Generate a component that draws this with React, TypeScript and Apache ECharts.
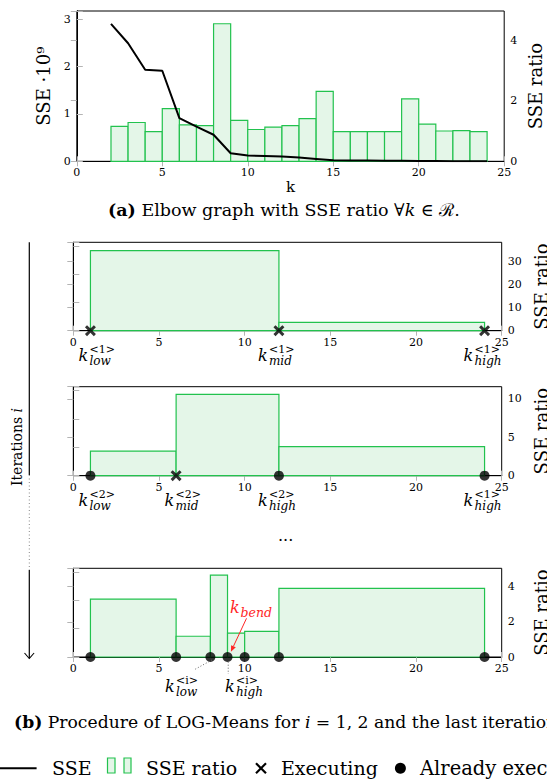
import React, { useEffect, useRef } from "react";
import * as echarts from "echarts";

const FONT = '"DejaVu Serif", serif';

// ---------- (a) Elbow graph ----------
const kValues = [2, 3, 4, 5, 6, 7, 8, 9, 10, 11, 12, 13, 14, 15, 16, 17, 18, 19, 20, 21, 22, 23, 24];
const sseValues = [2.9, 2.49, 1.93, 1.91, 0.91, 0.73, 0.56, 0.17, 0.12, 0.11, 0.1, 0.08, 0.05, 0.02, 0.018, 0.015, 0.012, 0.01, 0.005, 0.004, 0.003, 0.002, 0.001];
const ratioStarts = [2, 3, 4, 5, 6, 7, 8, 9, 10, 11, 12, 13, 14, 15, 16, 17, 18, 19, 20, 21, 22, 23];
const ratioValues = [1.15, 1.28, 0.98, 1.74, 1.2, 1.18, 4.54, 1.35, 1.05, 1.13, 1.18, 1.41, 2.31, 0.98, 0.98, 0.98, 0.98, 2.06, 1.23, 1.0, 1.01, 0.98];

// ---------- (b) LOG-Means iterations ----------
const iter1Edges = [1, 12, 24];
const iter1Ratios = [34.8, 3.6];
const iter1Executing = [1, 12, 24];
const iter1Done: number[] = [];

const iter2Edges = [1, 6, 12, 24];
const iter2Ratios = [3.2, 10.6, 3.8];
const iter2Executing = [6];
const iter2Done = [1, 12, 24];

const iterLastEdges = [1, 6, 8, 9, 10, 12, 24];
const iterLastRatios = [3.29, 1.18, 4.65, 1.36, 1.46, 3.9];
const iterLastExecuting: number[] = [];
const iterLastDone = [1, 6, 8, 9, 10, 12, 24];

const iter1Labels = [
  { k: 1, sup: "<1>", sub: "low" },
  { k: 12, sup: "<1>", sub: "mid" },
  { k: 24, sup: "<1>", sub: "high" },
];
const iter2Labels = [
  { k: 1, sup: "<2>", sub: "low" },
  { k: 6, sup: "<2>", sub: "mid" },
  { k: 12, sup: "<2>", sub: "high" },
  { k: 24, sup: "<1>", sub: "high" },
];
const iterLastLabels = [
  { k: 8, sup: "<i>", sub: "low" },
  { k: 9, sup: "<i>", sub: "high" },
];
const kBend = 9;

// label layout (pixel offsets, kept apart from the data)
const iter1LabelLayout = [{ dx: -12, dy: 0 }, { dx: -21, dy: 0 }, { dx: -21, dy: 0 }];
const iter2LabelLayout = [{ dx: -12, dy: 0 }, { dx: -11.5, dy: 0 }, { dx: -21, dy: 0 }, { dx: -21, dy: 0 }];
const iterLastLabelLayout = [
  { dx: -45.4, dy: 4.5, leader: [1.5, 3, -15.4, 12.3] },
  { dx: -2.6, dy: 4.5, leader: [0.7, 4.7, 0.7, 17] },
];

const GREEN = "#22c24e";
const GREEN_FILL = "#e4f6e8";
const TICK = "#b4b4b4";

const grids = [
  { left: 76.8, top: 11, width: 427.4, height: 150.3 },
  { left: 73.3, top: 242.3, width: 428.4, height: 88.4 },
  { left: 73.3, top: 386.7, width: 428.4, height: 89 },
  { left: 73.3, top: 568.3, width: 428.4, height: 88.7 },
];

const multipleFmt = (interval: number) => (v: number) => {
  const q = v / interval;
  return Math.abs(q - Math.round(q)) < 1e-6 ? String(v) : "";
};

function xAxesFor(gridIndex: number, withName: boolean) {
  const base = {
    type: "value",
    gridIndex,
    min: 0,
    max: 25,
    interval: 5,
    splitLine: { show: false },
    axisLine: { show: true, lineStyle: { color: "#000", width: 1 } },
    axisTick: { show: true, inside: true, length: 5, lineStyle: { color: TICK } },
  };
  return [
    {
      ...base,
      position: "bottom",
      axisLabel: { fontFamily: FONT, fontSize: 11, color: "#000", margin: 6 },
      ...(withName
        ? { name: "k", nameLocation: "middle", nameGap: 16, nameTextStyle: { fontFamily: FONT, fontSize: 15, color: "#000" } }
        : {}),
    },
    { ...base, position: "top", axisLabel: { show: false } },
  ];
}

function yAxis(gridIndex: number, position: string, max: number, interval: number, showLabels: boolean, name?: string, nameGap?: number) {
  return {
    type: "value",
    gridIndex,
    position,
    min: 0,
    max,
    interval,
    splitLine: { show: false },
    axisLine: { show: true, lineStyle: { color: "#000", width: 1 } },
    axisTick: { show: true, inside: true, length: 6, lineStyle: { color: TICK } },
    axisLabel: { show: showLabels, fontFamily: FONT, fontSize: 11, color: "#000", margin: 6, formatter: multipleFmt(interval) },
    ...(name
      ? { name, nameLocation: "middle", nameRotate: 90, nameGap, nameTextStyle: { fontFamily: FONT, fontSize: 18, color: "#000" } }
      : {}),
  };
}

function barSeries(edges: number[], values: number[], xAxisIndex: number, yAxisIndex: number) {
  return {
    type: "custom",
    xAxisIndex,
    yAxisIndex,
    z: 2,
    data: values.map((v, i) => [edges[i], edges[i + 1], v]),
    encode: { x: [0, 1], y: 2 },
    renderItem: (_p: any, api: any) => {
      const a = api.coord([api.value(0), api.value(2)]);
      const b = api.coord([api.value(1), 0]);
      return {
        type: "rect",
        shape: { x: a[0], y: a[1], width: b[0] - a[0], height: b[1] - a[1] },
        style: { fill: GREEN_FILL, stroke: GREEN, lineWidth: 1.2 },
      };
    },
  };
}

const CROSS = "path://M0,1.9L1.9,0L5,3.1L8.1,0L10,1.9L6.9,5L10,8.1L8.1,10L5,6.9L1.9,10L0,8.1L3.1,5Z";

function markerSeries(done: number[], executing: number[], xAxisIndex: number, yAxisIndex: number) {
  return [
    {
      type: "scatter",
      xAxisIndex,
      yAxisIndex,
      z: 10,
      clip: false,
      symbol: "circle",
      symbolSize: 10,
      itemStyle: { color: "#000" },
      data: done.map((k) => [k, 0]),
    },
    {
      type: "scatter",
      xAxisIndex,
      yAxisIndex,
      z: 10,
      clip: false,
      symbol: CROSS,
      symbolSize: 11,
      itemStyle: { color: "#000" },
      data: executing.map((k) => [k, 0]),
    },
  ];
}

function labelSeries(labels: { k: number; sup: string; sub: string }[], layout: any[], xAxisIndex: number, yAxisIndex: number) {
  return {
    type: "custom",
    xAxisIndex,
    yAxisIndex,
    z: 12,
    data: labels.map((l, i) => [l.k, 0, i]),
    encode: { x: 0, y: 1 },
    renderItem: (_p: any, api: any) => {
      const idx = api.value(2);
      const lab = labels[idx];
      const lay = layout[idx];
      const p = api.coord([api.value(0), 0]);
      const x0 = p[0] + lay.dx;
      const y0 = p[1] + lay.dy;
      const children: any[] = [
        { type: "text", x: x0, y: y0 + 24.6, style: { text: "k", font: `italic 16px ${FONT}`, fill: "#000", align: "left", verticalAlign: "middle" } },
        { type: "text", x: x0 + 11, y: y0 + 18.6, style: { text: lab.sup, font: `11px ${FONT}`, fill: "#000", align: "left", verticalAlign: "middle" } },
        { type: "text", x: x0 + 11, y: y0 + 30, style: { text: lab.sub, font: `italic 12px ${FONT}`, fill: "#000", align: "left", verticalAlign: "middle" } },
      ];
      if (lay.leader) {
        const [ax, ay, bx, by] = lay.leader;
        children.push({
          type: "line",
          shape: { x1: p[0] + ax, y1: p[1] + ay, x2: p[0] + bx, y2: p[1] + by },
          style: { stroke: "#666", lineWidth: 1, lineDash: [1, 2] },
        });
      }
      return { type: "group", children };
    },
  };
}

function bendSeries(xAxisIndex: number, yAxisIndex: number) {
  return {
    type: "custom",
    xAxisIndex,
    yAxisIndex,
    z: 13,
    data: [[kBend, 0]],
    encode: { x: 0, y: 1 },
    renderItem: (_p: any, api: any) => {
      const p = api.coord([api.value(0), 0]);
      const sx = p[0] + 19, sy = p[1] - 38.7;
      const tx = p[0] + 3.4, ty = p[1] - 5.3;
      const dx = tx - sx, dy = ty - sy;
      const len = Math.sqrt(dx * dx + dy * dy);
      const ux = dx / len, uy = dy / len;
      const hl = 6, hw = 2.6;
      const bx = tx - ux * hl, by = ty - uy * hl;
      const RED = "#ff2626";
      return {
        type: "group",
        children: [
          { type: "text", x: p[0] + 2.4, y: p[1] - 49.5, style: { text: "k", font: `italic 16px ${FONT}`, fill: RED, align: "left", verticalAlign: "middle" } },
          { type: "text", x: p[0] + 13, y: p[1] - 45, style: { text: "bend", font: `italic 12.5px ${FONT}`, fill: RED, align: "left", verticalAlign: "middle" } },
          { type: "line", shape: { x1: sx, y1: sy, x2: bx, y2: by }, style: { stroke: RED, lineWidth: 1 } },
          {
            type: "polygon",
            shape: { points: [[tx, ty], [bx - uy * hw, by + ux * hw], [bx + uy * hw, by - ux * hw]] },
            style: { fill: RED },
          },
        ],
      };
    },
  };
}

export default function App() {
  const ref = useRef<HTMLDivElement>(null);
  useEffect(() => {
    if (!ref.current) return;
    const chart = echarts.init(ref.current, undefined, { renderer: "svg" });
    const txt = (x: number, y: number, text: string, size: number, extra: any = {}) => ({
      type: "text",
      x,
      y,
      silent: true,
      style: { text, fontFamily: FONT, fontSize: size, fill: "#000", align: "left", verticalAlign: "middle", ...extra },
    });
    const rotName = (x: number, y: number, text: string) => ({
      type: "text",
      silent: true,
      x,
      y,
      rotation: Math.PI / 2,
      style: { text, fontFamily: FONT, fontSize: 18, fill: "#000", align: "center", verticalAlign: "middle" },
    });
    const option: any = {
      animation: false,
      backgroundColor: "#fff",
      grid: grids.map((g) => ({ ...g, show: true, borderColor: "#000", borderWidth: 1, backgroundColor: "transparent", containLabel: false })),
      xAxis: [...xAxesFor(0, true), ...xAxesFor(1, false), ...xAxesFor(2, false), ...xAxesFor(3, false)],
      yAxis: [
        yAxis(0, "left", 3.17, 1, true, "SSE ·10⁹", 20),
        yAxis(0, "right", 4.96, 2, true),
        yAxis(1, "left", 3.13, 1, false),
        yAxis(1, "right", 38.4, 10, true),
        yAxis(2, "left", 3.13, 1, false),
        yAxis(2, "right", 11.6, 5, true),
        yAxis(3, "left", 3.13, 1, false),
        yAxis(3, "right", 5.04, 2, true),
      ],
      series: [
        barSeries(ratioStarts.concat([ratioStarts[ratioStarts.length - 1] + 1]), ratioValues, 0, 1),
        {
          type: "line",
          xAxisIndex: 0,
          yAxisIndex: 0,
          z: 5,
          symbol: "none",
          data: kValues.map((k, i) => [k, sseValues[i]]),
          lineStyle: { color: "#000", width: 2 },
        },
        barSeries(iter1Edges, iter1Ratios, 2, 3),
        ...markerSeries(iter1Done, iter1Executing, 2, 3),
        labelSeries(iter1Labels, iter1LabelLayout, 2, 3),
        barSeries(iter2Edges, iter2Ratios, 4, 5),
        ...markerSeries(iter2Done, iter2Executing, 4, 5),
        labelSeries(iter2Labels, iter2LabelLayout, 4, 5),
        barSeries(iterLastEdges, iterLastRatios, 6, 7),
        ...markerSeries(iterLastDone, iterLastExecuting, 6, 7),
        labelSeries(iterLastLabels, iterLastLabelLayout, 6, 7),
        bendSeries(6, 7),
      ],
      graphic: [
        // right-hand axis titles
        rotName(535, grids[0].top + grids[0].height / 2, "SSE ratio"),
        rotName(541, grids[1].top + grids[1].height / 2, "SSE ratio"),
        rotName(541, grids[2].top + grids[2].height / 2, "SSE ratio"),
        rotName(541, grids[3].top + grids[3].height / 2, "SSE ratio"),
        // caption (a)
        txt(108, 210, "{b|(a)} Elbow graph with SSE ratio ∀{i|k} ∈ ℛ.", 17.5, {
          rich: { b: { fontWeight: "bold", fontFamily: FONT, fontSize: 17.5 }, i: { fontStyle: "italic", fontFamily: FONT, fontSize: 17.5 } },
        }),
        // iterations arrow on the left
        { type: "line", silent: true, shape: { x1: 29.3, y1: 242.3, x2: 29.3, y2: 475 }, style: { stroke: "#000", lineWidth: 1.2 } },
        { type: "line", silent: true, shape: { x1: 29.3, y1: 475, x2: 29.3, y2: 570 }, style: { stroke: "#888", lineWidth: 1, lineDash: [1, 2.5] } },
        { type: "line", silent: true, shape: { x1: 29.3, y1: 570, x2: 29.3, y2: 658.3 }, style: { stroke: "#000", lineWidth: 1.2 } },
        { type: "polyline", silent: true, shape: { points: [[24.5, 653], [29.3, 658.5], [34.1, 653]] }, style: { stroke: "#000", lineWidth: 1.1, fill: "none" } },
        {
          type: "text",
          silent: true,
          x: 16.7,
          y: 447,
          rotation: Math.PI / 2,
          style: {
            text: "Iterations {i|i}",
            fontFamily: FONT,
            fontSize: 14,
            fill: "#000",
            align: "center",
            verticalAlign: "middle",
            rich: { i: { fontStyle: "italic", fontFamily: FONT, fontSize: 14 } },
          },
        },
        txt(278, 535, "...", 16),
        // caption (b)
        txt(14, 721.7, "{b|(b)} Procedure of LOG-Means for {i|i} = 1, 2 and the last iteration", 17.2, {
          rich: { b: { fontWeight: "bold", fontFamily: FONT, fontSize: 17.2 }, i: { fontStyle: "italic", fontFamily: FONT, fontSize: 17.2 } },
        }),
        // legend
        { type: "line", silent: true, shape: { x1: 0, y1: 768.3, x2: 36.6, y2: 768.3 }, style: { stroke: "#000", lineWidth: 2 } },
        txt(52, 768.3, "SSE", 19),
        { type: "rect", silent: true, shape: { x: 107.5, y: 758, width: 7.5, height: 15 }, style: { fill: GREEN_FILL, stroke: GREEN, lineWidth: 1.2 } },
        { type: "rect", silent: true, shape: { x: 124, y: 758, width: 7, height: 15 }, style: { fill: GREEN_FILL, stroke: GREEN, lineWidth: 1.2 } },
        txt(146, 768.3, "SSE ratio", 19),
        { type: "line", silent: true, shape: { x1: 256, y1: 763.3, x2: 266, y2: 773.3 }, style: { stroke: "#000", lineWidth: 2.2 } },
        { type: "line", silent: true, shape: { x1: 256, y1: 773.3, x2: 266, y2: 763.3 }, style: { stroke: "#000", lineWidth: 2.2 } },
        txt(281, 768.3, "Executing", 19),
        { type: "circle", silent: true, shape: { cx: 400.4, cy: 768.3, r: 5.5 }, style: { fill: "#000" } },
        txt(420, 768.3, "Already executed", 19.5),
      ],
    };
    chart.setOption(option);
    return () => chart.dispose();
  }, []);
  return <div ref={ref} style={{ position: "fixed", left: 0, top: 0, width: 547, height: 781, background: "#fff" }} />;
}
